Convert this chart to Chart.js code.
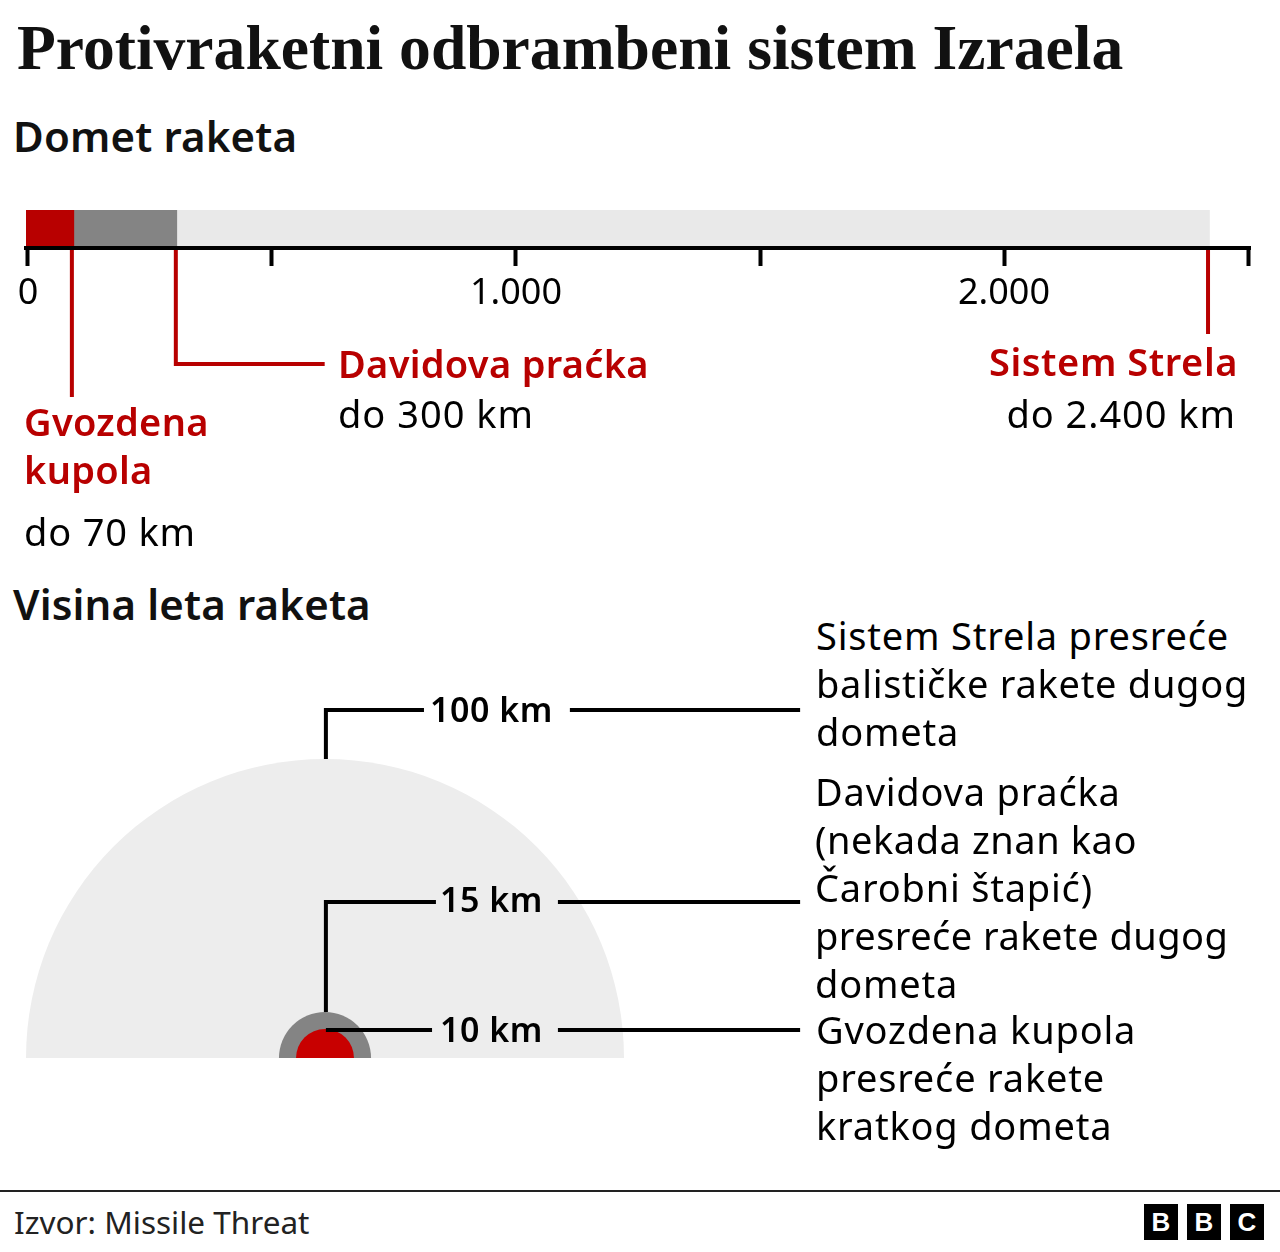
<!DOCTYPE html>
<html lang="sr">
<head>
<meta charset="utf-8">
<script src="https://cdn.jsdelivr.net/npm/chart.js@4"></script>
<style>
html,body{margin:0;padding:0;background:#fff;width:1280px;height:1252px;overflow:hidden}
#page{position:relative;width:1280px;height:1252px;font-family:"Noto Sans",sans-serif;color:#000}
.t{position:absolute;white-space:nowrap;line-height:1;font-size:38px;letter-spacing:.8px}
.r{color:#b80000;font-weight:600;letter-spacing:.3px}
.h{font-size:42px;font-weight:600;letter-spacing:.15px}
.k{font-weight:600;font-size:34px;letter-spacing:.5px}
canvas{position:absolute}
#c1wrap{position:absolute;left:0;top:200px;width:1280px;height:200px}
#c2wrap{position:absolute;left:0;top:690px;width:830px;height:368px}
.b{position:absolute;top:1204px;width:34px;height:36px;background:#000;color:#fff;font:700 26px/36px "Liberation Sans",sans-serif;text-align:center}
</style>
</head>
<body>
<div id="page">
<div class="t" style="left:17px;top:16px;font:700 63.6px/1 'Liberation Serif',serif;letter-spacing:0;color:#111">Protivraketni odbrambeni sistem Izraela</div>
<div class="t h" style="left:13px;top:115px;color:#111">Domet raketa</div>

<div id="c1wrap"><canvas id="rangeChart"></canvas></div>

<div class="t r" style="left:338px;top:344px">Davidova praćka</div>
<div class="t" style="left:338px;top:394px;letter-spacing:1px">do 300 km</div>
<div class="t r" style="left:24px;top:402px">Gvozdena</div>
<div class="t r" style="left:24px;top:450px">kupola</div>
<div class="t" style="left:24px;top:512px">do 70 km</div>
<div class="t r" style="right:42px;top:342px;letter-spacing:.56px">Sistem Strela</div>
<div class="t" style="right:44px;top:394px;letter-spacing:.95px">do 2.400 km</div>

<div class="t h" style="left:13px;top:583px;color:#111">Visina leta raketa</div>

<div id="c2wrap"><canvas id="heightChart"></canvas></div>

<div class="t k" style="left:430px;top:692px">100 km</div>
<div class="t k" style="left:440px;top:882px">15 km</div>
<div class="t k" style="left:440px;top:1012px">10 km</div>

<div class="t" style="left:816px;top:616px">Sistem Strela presreće</div>
<div class="t" style="left:816px;top:664px;letter-spacing:.72px">balističke rakete dugog</div>
<div class="t" style="left:816px;top:712px">dometa</div>
<div class="t" style="left:815px;top:772px">Davidova praćka</div>
<div class="t" style="left:815px;top:820px;letter-spacing:.55px">(nekada znan kao</div>
<div class="t" style="left:815px;top:868px">Čarobni štapić)</div>
<div class="t" style="left:815px;top:916px;letter-spacing:.47px">presreće rakete dugog</div>
<div class="t" style="left:815px;top:964px">dometa</div>
<div class="t" style="left:816px;top:1010px">Gvozdena kupola</div>
<div class="t" style="left:816px;top:1058px">presreće rakete</div>
<div class="t" style="left:816px;top:1106px">kratkog dometa</div>

<div style="position:absolute;left:0;top:1190px;width:1280px;height:2px;background:#222"></div>
<div class="t" style="left:14px;top:1206px;font-size:31.5px;letter-spacing:0;color:#222">Izvor: Missile Threat</div>
<div class="b" style="left:1144px">B</div>
<div class="b" style="left:1187px">B</div>
<div class="b" style="left:1230px">C</div>
</div>

<script>
// --- Range chart (km along the axis) ---
const rangeCategories = ['Domet'];
const rangeSeriesNames = ['Gvozdena kupola', 'Davidova praćka', 'Sistem Strela'];
const rangeStarts = [-4, 94, 305];
const rangeEnds = [94, 305, 2421];
const rangeColors = ['#b80000', '#848484', '#e9e9e9'];
const rangeTicks = [0, 500, 1000, 1500, 2000, 2500];
const rangeTickLabels = ['0', '', '1.000', '', '2.000', ''];
const rangeAxisMin = -4;
const rangeAxisMax = 2504;
// leader lines: [km along axis, drop below axis]
const leaderKupola = [{x: 90, y: 0}, {x: 90, y: 149}];
const leaderPracka = [{x: 303, y: 0}, {x: 303, y: 116}, {x: 608, y: 116}];
const leaderStrela = [{x: 2418, y: 0}, {x: 2418, y: 86}];

// --- Height chart (km) ---
const heightNames = ['Sistem Strela', 'Davidova praćka', 'Gvozdena kupola'];
const heightValues = [100, 15.4, 9.7];
const heightColors = ['#ededed', '#848484', '#c80000'];
const leader100Left = [{x: 0.3, y: 100}, {x: 0.3, y: 116.4}, {x: 33.1, y: 116.4}];
const leader100Right = [{x: 81.9, y: 116.4}, {x: 158.9, y: 116.4}];
const leader15Left = [{x: 0.3, y: 15.4}, {x: 0.3, y: 52.2}, {x: 37.1, y: 52.2}];
const leader15Right = [{x: 77.9, y: 52.2}, {x: 158.9, y: 52.2}];
const leader10Left = [{x: 0.3, y: 9.36}, {x: 35.8, y: 9.36}];
const leader10Right = [{x: 77.9, y: 9.36}, {x: 158.9, y: 9.36}];

Chart.defaults.animation = false;
Chart.defaults.font.family = '"Noto Sans", sans-serif';

const redLeader = d => ({
  type: 'scatter', data: d, xAxisID: 'x', yAxisID: 'yDrop', showLine: true,
  borderColor: '#b80000', borderWidth: 4, pointRadius: 0, clip: false,
  borderJoinStyle: 'miter', order: -1
});

new Chart(document.getElementById('rangeChart'), {
  data: {
    labels: rangeCategories,
    datasets: [
      ...rangeSeriesNames.map((n, i) => ({
        type: 'bar', indexAxis: 'y', label: n, xAxisID: 'x', yAxisID: 'y',
        data: [[rangeStarts[i], rangeEnds[i]]],
        backgroundColor: rangeColors[i], grouped: false,
        barPercentage: 1, categoryPercentage: 1, borderWidth: 0
      })),
      redLeader(leaderKupola), redLeader(leaderPracka), redLeader(leaderStrela)
    ]
  },
  options: {
    responsive: true, maintainAspectRatio: false,
    layout: {padding: {left: 26, right: 30, top: 10, bottom: 0}},
    plugins: {legend: {display: false}, tooltip: {enabled: false}},
    scales: {
      x: {
        type: 'linear', position: 'bottom', min: rangeAxisMin, max: rangeAxisMax,
        afterBuildTicks: s => { s.ticks = rangeTicks.map(v => ({value: v})); },
        afterFit: s => { s.height = 152; },
        ticks: {
          autoSkip: false, maxRotation: 0, minRotation: 0, padding: 6,
          color: '#000', font: {size: 36},
          callback: v => rangeTickLabels[rangeTicks.indexOf(v)]
        },
        grid: {drawOnChartArea: false, drawTicks: true, tickLength: 18, tickWidth: 4, tickColor: '#000'},
        border: {display: true, color: '#000', width: 4, z: 2}
      },
      y: {type: 'category', display: false},
      yDrop: {type: 'linear', display: false, reverse: true, min: -38, max: 0}
    }
  }
});

const blackLeader = d => ({
  type: 'scatter', data: d, showLine: true, borderColor: '#000', borderWidth: 4,
  pointRadius: 0, borderJoinStyle: 'miter', clip: false, order: -1
});

new Chart(document.getElementById('heightChart'), {
  data: {
    datasets: [
      ...[...heightNames.keys()].map(i => ({
        type: 'scatter', label: heightNames[i],
        data: [{x: 0, y: 0, h: heightValues[i]}],
        backgroundColor: heightColors[i], pointBackgroundColor: heightColors[i],
        pointBorderWidth: 0, clip: false, order: 3 - i,
        pointRadius: c => {
          const y = c.chart.scales.y;
          return y.getPixelForValue(0) - y.getPixelForValue(c.raw ? c.raw.h : 0);
        }
      })),
      ...[leader100Left, leader100Right, leader15Left, leader15Right, leader10Left, leader10Right].map(blackLeader)
    ]
  },
  options: {
    responsive: true, maintainAspectRatio: false,
    layout: {padding: {left: 26, right: 26.6, top: 9.2, bottom: 0}},
    plugins: {legend: {display: false}, tooltip: {enabled: false}},
    scales: {
      x: {type: 'linear', display: false, min: -100, max: 160},
      y: {type: 'linear', display: false, min: 0, max: 120}
    }
  }
});
</script>
</body>
</html>
